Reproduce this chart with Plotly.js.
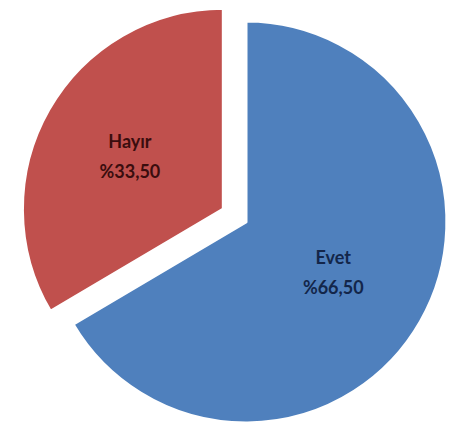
<!DOCTYPE html>
<html>
<head>
<meta charset="utf-8">
<script src="https://cdn.plot.ly/plotly-3.0.1.min.js"></script>
<style>
  html, body { margin: 0; padding: 0; background: #ffffff; overflow: hidden; width: 451px; height: 445px; }
  #chart { position: absolute; left: 0px; top: -5px; width: 500px; height: 470px; }
</style>
</head>
<body>
<div id="chart"></div>
<script>
const labels = ["Evet", "Hayır"];
const values = [66.50, 33.50];
const displayTexts = ["%66,50", "%33,50"];
const sliceColors = ["#4f80bd", "#c0504d"];
const labelColors = ["#13264a", "#3a0d0e"];
const pulls = [0, 0.13];

const texts = labels.map((l, i) =>
  '<span style="font-size:18px">' + l + '</span><br><span style="font-size:18px">' + displayTexts[i] + '</span>'
);

const trace = {
  type: "pie",
  labels: labels,
  values: values,
  text: texts,
  textinfo: "text",
  textposition: "inside",
  insidetextorientation: "horizontal",
  sort: false,
  direction: "clockwise",
  rotation: 0,
  pull: pulls,
  marker: { colors: sliceColors, line: { color: "#ffffff", width: 3 } },
  insidetextfont: { family: "Lato, 'Open Sans', sans-serif", size: 23, color: labelColors, weight: "bold" },
  hoverinfo: "none",
  showlegend: false
};

const layout = {
  width: 500,
  height: 470,
  margin: { l: 19, r: 27, t: 0, b: 16 },
  paper_bgcolor: "#ffffff",
  showlegend: false
};

Plotly.newPlot("chart", [trace], layout, { displayModeBar: false, staticPlot: true });
</script>
</body>
</html>
